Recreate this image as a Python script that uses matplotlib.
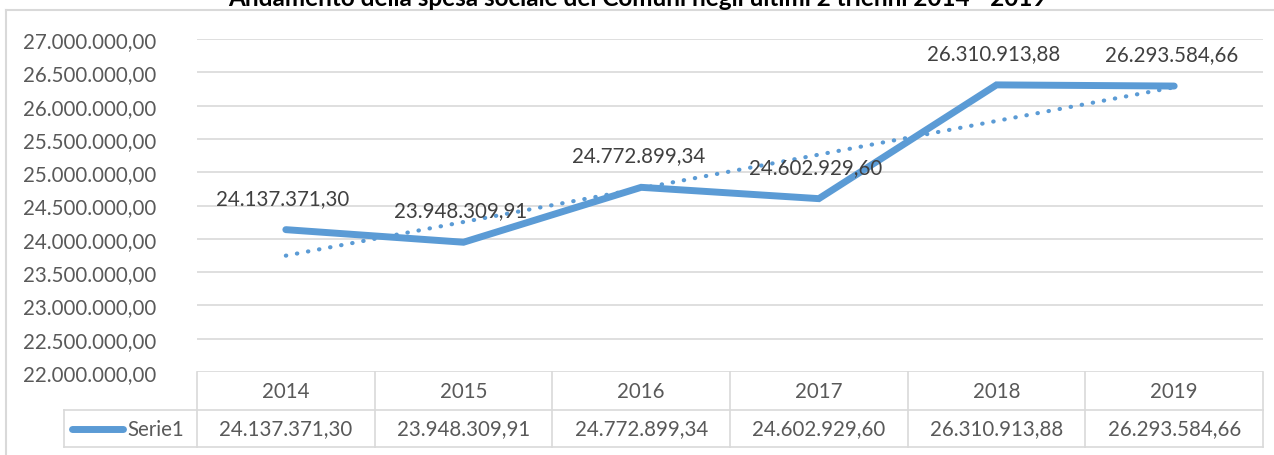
import numpy as np
import matplotlib
matplotlib.use("Agg")
import matplotlib.pyplot as plt
from matplotlib.lines import Line2D
import matplotlib.transforms as mtransforms

years = ["2014", "2015", "2016", "2017", "2018", "2019"]
values = [24137371.30, 23948309.91, 24772899.34, 24602929.60, 26310913.88, 26293584.66]
series_name = "Serie1"
title = "Andamento della spesa sociale dei Comuni negli ultimi 2 trienni 2014 - 2019"
y_ticks = [22000000, 22500000, 23000000, 23500000, 24000000, 24500000,
           25000000, 25500000, 26000000, 26500000, 27000000]


def fmt_it(v):
    # italian number format: 24.137.371,30
    s = f"{v:,.2f}"
    return s.replace(",", "X").replace(".", ",").replace("X", ".")


plt.rcParams["font.family"] = ["Lato", "DejaVu Sans"]
blue = "#5B9BD5"
grey_txt = "#595959"
grid = "#D9D9D9"
fs = 14.8

W, H = 1274, 456
fig = plt.figure(figsize=(W / 100, H / 100), dpi=100)
ax = fig.add_axes([197 / W, 1 - 373 / H, 1066 / W, 333 / H])

x = np.arange(len(years))
ax.set_xlim(-0.5, len(years) - 0.5)
ax.set_ylim(y_ticks[0], y_ticks[-1])

for t in y_ticks:
    ax.axhline(t, color=grid, lw=1.2, zorder=0)

# trendline (linear)
k, b = np.polyfit(x, values, 1)
ax.plot(x, k * x + b, color=blue, lw=3, linestyle=(0, (0.1, 2.6)),
        dash_capstyle="round", zorder=2)
ax.plot(x, values, color=blue, lw=5, solid_capstyle="round",
        solid_joinstyle="miter", zorder=3)

for xi, v in zip(x, values):
    ax.annotate(fmt_it(v), (xi, v), xytext=(-3, 32), textcoords="offset pixels",
                ha="center", va="center", fontsize=fs, color="#404040")

ax.set_yticks(y_ticks)
ax.set_yticklabels([fmt_it(t) for t in y_ticks], fontsize=fs, color=grey_txt)
ax.tick_params(axis="y", length=0, pad=29)
ax.set_xticks([])
for sp in ax.spines.values():
    sp.set_visible(False)

# data table under the plot
tr = mtransforms.blended_transform_factory(ax.transData, ax.transAxes)
r1 = 0.0
r2 = -(411 - 373) / 333
r3 = -(448 - 373) / 333
col_w = 1066 / len(years)
leg_left = -0.5 - (197 - 64) / col_w
lk = dict(color=grid, lw=1.2, transform=tr, clip_on=False)
ax.plot([leg_left, len(years) - 0.5], [r2, r2], **lk)
ax.plot([leg_left, len(years) - 0.5], [r3, r3], **lk)
ax.plot([leg_left, leg_left], [r2, r3], **lk)
for i in range(len(years) + 1):
    ax.plot([i - 0.5, i - 0.5], [r1, r3], **lk)
for i, (yr, v) in enumerate(zip(years, values)):
    ax.text(i, (r1 + r2) / 2, yr, transform=tr, ha="center", va="center",
            fontsize=fs, color=grey_txt)
    ax.text(i, (r2 + r3) / 2, fmt_it(v), transform=tr, ha="center", va="center",
            fontsize=fs, color=grey_txt)
lx0 = -0.5 - (197 - 72) / col_w
lx1 = -0.5 - (197 - 123) / col_w
ax.plot([lx0, lx1], [(r2 + r3) / 2] * 2, color=blue, lw=5, solid_capstyle="round",
        transform=tr, clip_on=False)
ax.text(-0.5 - (197 - 127) / col_w, (r2 + r3) / 2, series_name, transform=tr,
        ha="left", va="center", fontsize=fs, color=grey_txt)

# outer chart frame and title (clipped at the top, as in the source image)
fig.add_artist(Line2D([6 / W, 6 / W], [1 - 11 / H, 0], color=grid, lw=1.5))
fig.add_artist(Line2D([6 / W, 1], [1 - 11 / H, 1 - 11 / H], color=grid, lw=1.5))
fig.text(0.5, 1 + 1 / H, title, ha="center", va="center", fontsize=17.5,
         fontweight="bold", color="black")

fig.savefig("out.png", dpi=100)
